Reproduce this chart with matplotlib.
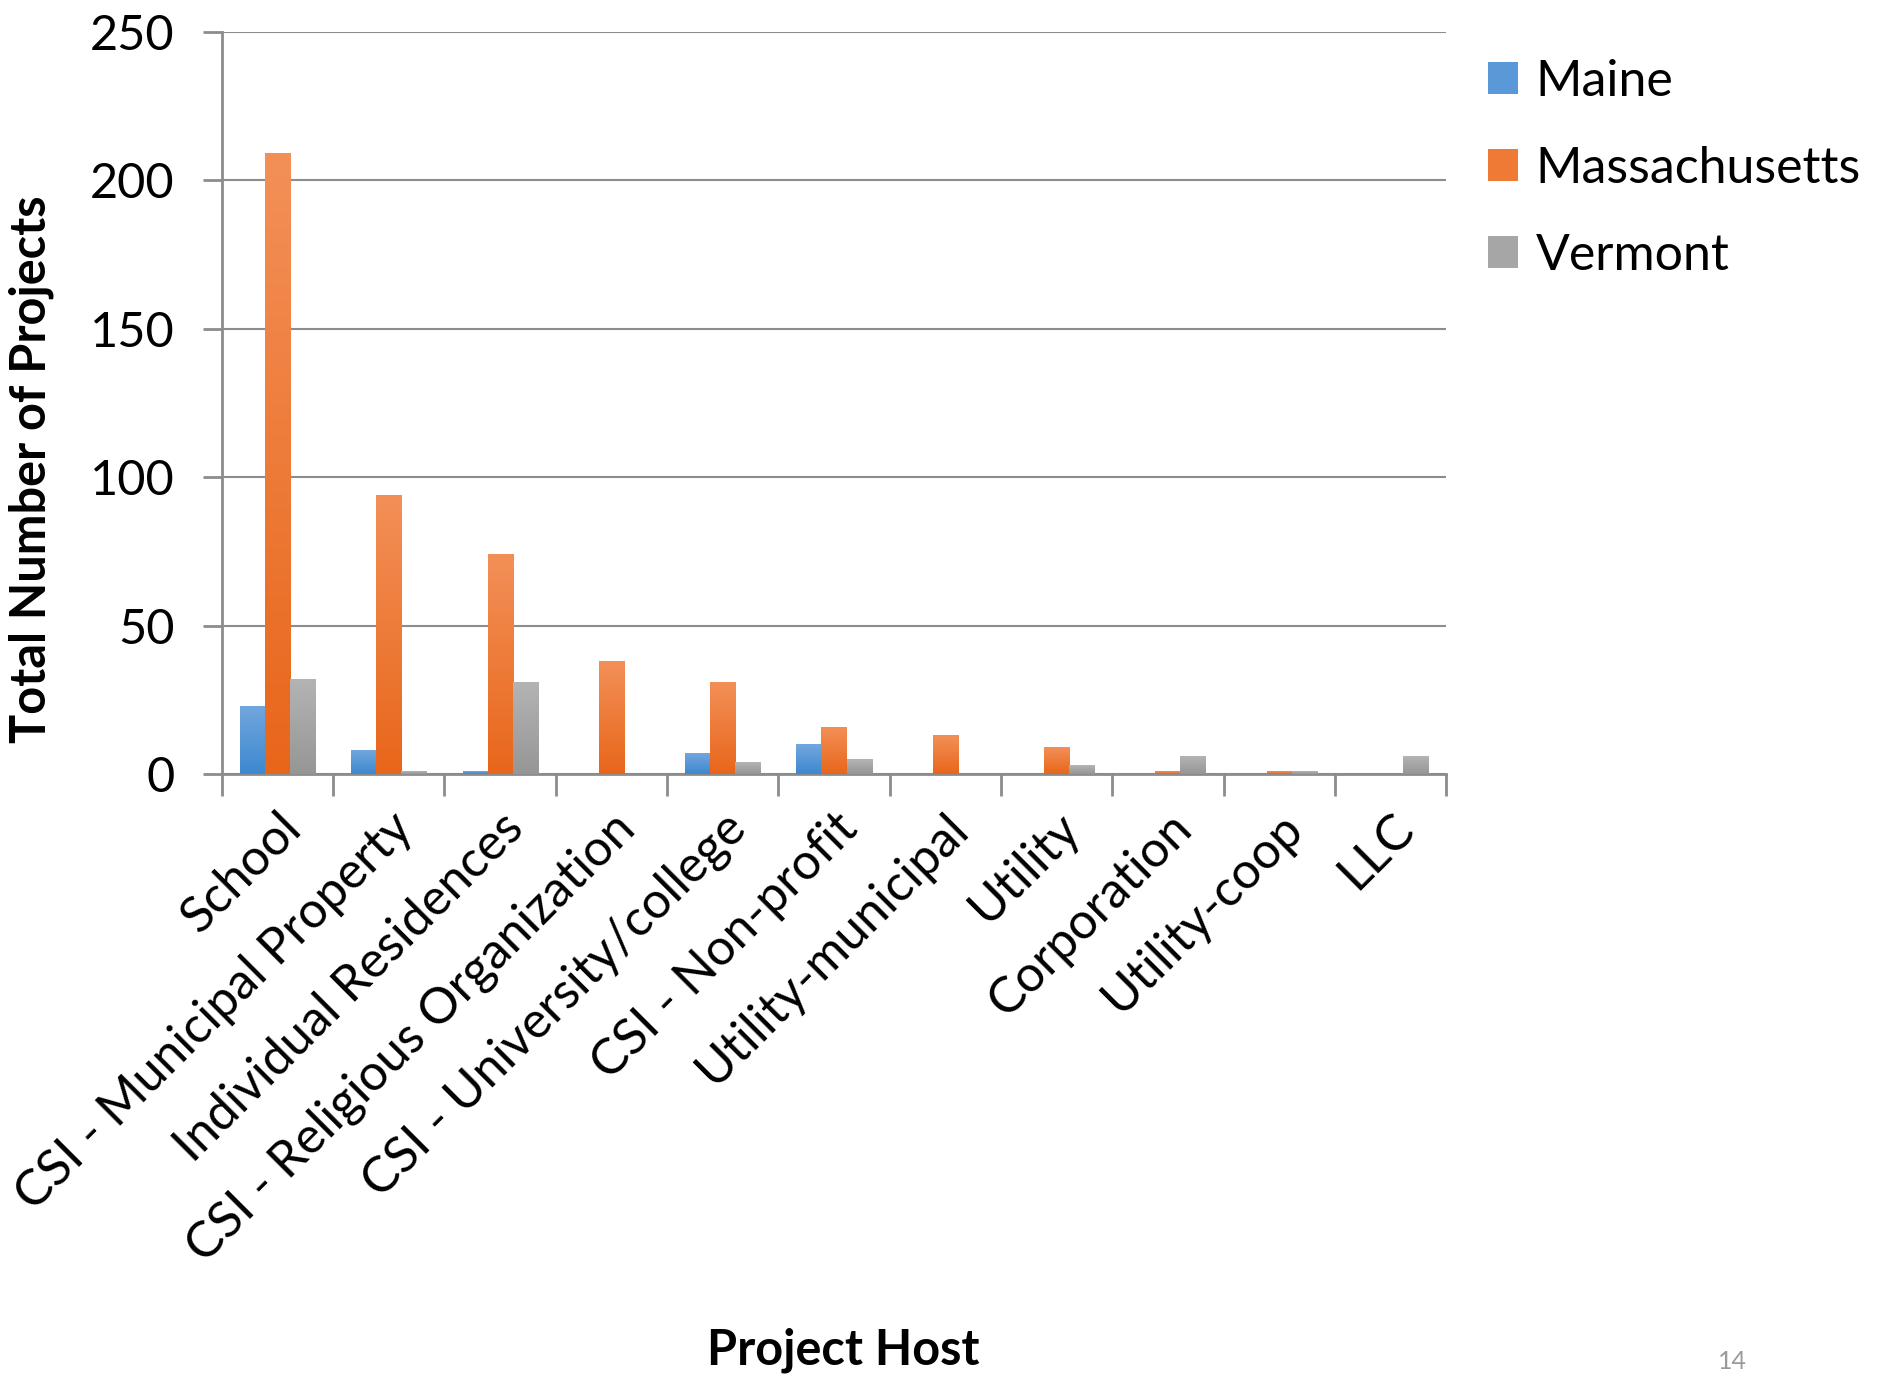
import numpy as np
import matplotlib.pyplot as plt
from matplotlib.colors import LinearSegmentedColormap
from matplotlib.patches import Patch

plt.rcParams["font.family"] = ["Lato", "DejaVu Sans"]

hosts = ["School", "CSI - Municipal Property", "Individual Residences",
         "CSI - Religious Organization", "CSI - University/college",
         "CSI - Non-profit", "Utility-municipal", "Utility", "Corporation",
         "Utility-coop", "LLC"]
maine = [23, 8, 1, 0, 7, 10, 0, 0, 0, 0, 0]
massachusetts = [209, 94, 74, 38, 31, 16, 13, 9, 1, 1, 0]
vermont = [32, 1, 31, 0, 4, 5, 0, 3, 6, 1, 6]
states = ["Maine", "Massachusetts", "Vermont"]

# (top colour, bottom colour) for each series
shades = [("#72a7de", "#3d88cf"), ("#f39058", "#e8661a"), ("#b4b4b4", "#969696")]

fig = plt.figure(figsize=(18.79, 13.77), dpi=100)
ax = fig.add_axes([0.1181, 0.4379, 0.6515, 0.5391])

x = np.arange(len(hosts))
w = 0.225
grad = np.linspace(1, 0, 256).reshape(-1, 1)
for i, (vals, (top, bot)) in enumerate(zip([maine, massachusetts, vermont], shades)):
    cmap = LinearSegmentedColormap.from_list(states[i], [bot, top])
    bars = ax.bar(x + (i - 1) * w, vals, w, color="none", edgecolor="none", zorder=3)
    for b in bars:
        h = b.get_height()
        if h <= 0:
            continue
        bx, bw = b.get_x(), b.get_width()
        im = ax.imshow(grad, cmap=cmap, aspect="auto", extent=(bx, bx + bw, 0, h),
                       origin="upper", zorder=3, interpolation="bilinear")
        im.set_clip_path(b)

ax.set_xlim(-0.5, len(hosts) - 0.5)
ax.set_ylim(0, 250)
ax.set_yticks(np.arange(0, 251, 50))
ax.yaxis.grid(True, color="#8c8c8c", linewidth=1.5, zorder=0)
ax.set_axisbelow(True)

for s in ["top", "right"]:
    ax.spines[s].set_visible(False)
for s in ["left", "bottom"]:
    ax.spines[s].set_color("#8c8c8c")
    ax.spines[s].set_linewidth(2)

ax.set_xticks(np.arange(-0.5, len(hosts), 1.0))
ax.set_xticklabels([])
ax.set_xticks(x, minor=True)
ax.set_xticklabels(hosts, minor=True, rotation=45, ha="right",
                   rotation_mode="anchor", fontsize=36)
ax.tick_params(axis="x", which="major", length=16, width=2, color="#8c8c8c")
ax.tick_params(axis="x", which="minor", length=0, pad=22)
ax.tick_params(axis="y", length=14, width=2, color="#8c8c8c", labelsize=35, pad=20)

ax.set_ylabel("Total Number of Projects", fontsize=35, fontweight="bold")
ax.yaxis.set_label_coords(-0.137, 0.41)
fig.text(0.4487, 0.009, "Project Host", fontsize=35, fontweight="bold", ha="center")
fig.text(0.922, 0.006, "14", fontsize=18, color="#9a9a9a", ha="center")

handles = [Patch(facecolor=c, edgecolor="none") for c in ["#5a98d8", "#ef7a35", "#a6a6a6"]]
fig.legend(handles, states, loc="upper left", bbox_to_anchor=(0.768, 0.99),
           frameon=False, fontsize=36, handlelength=0.6, handleheight=0.6,
           handletextpad=0.35, labelspacing=0.82)

fig.savefig("out.png", dpi=100)
